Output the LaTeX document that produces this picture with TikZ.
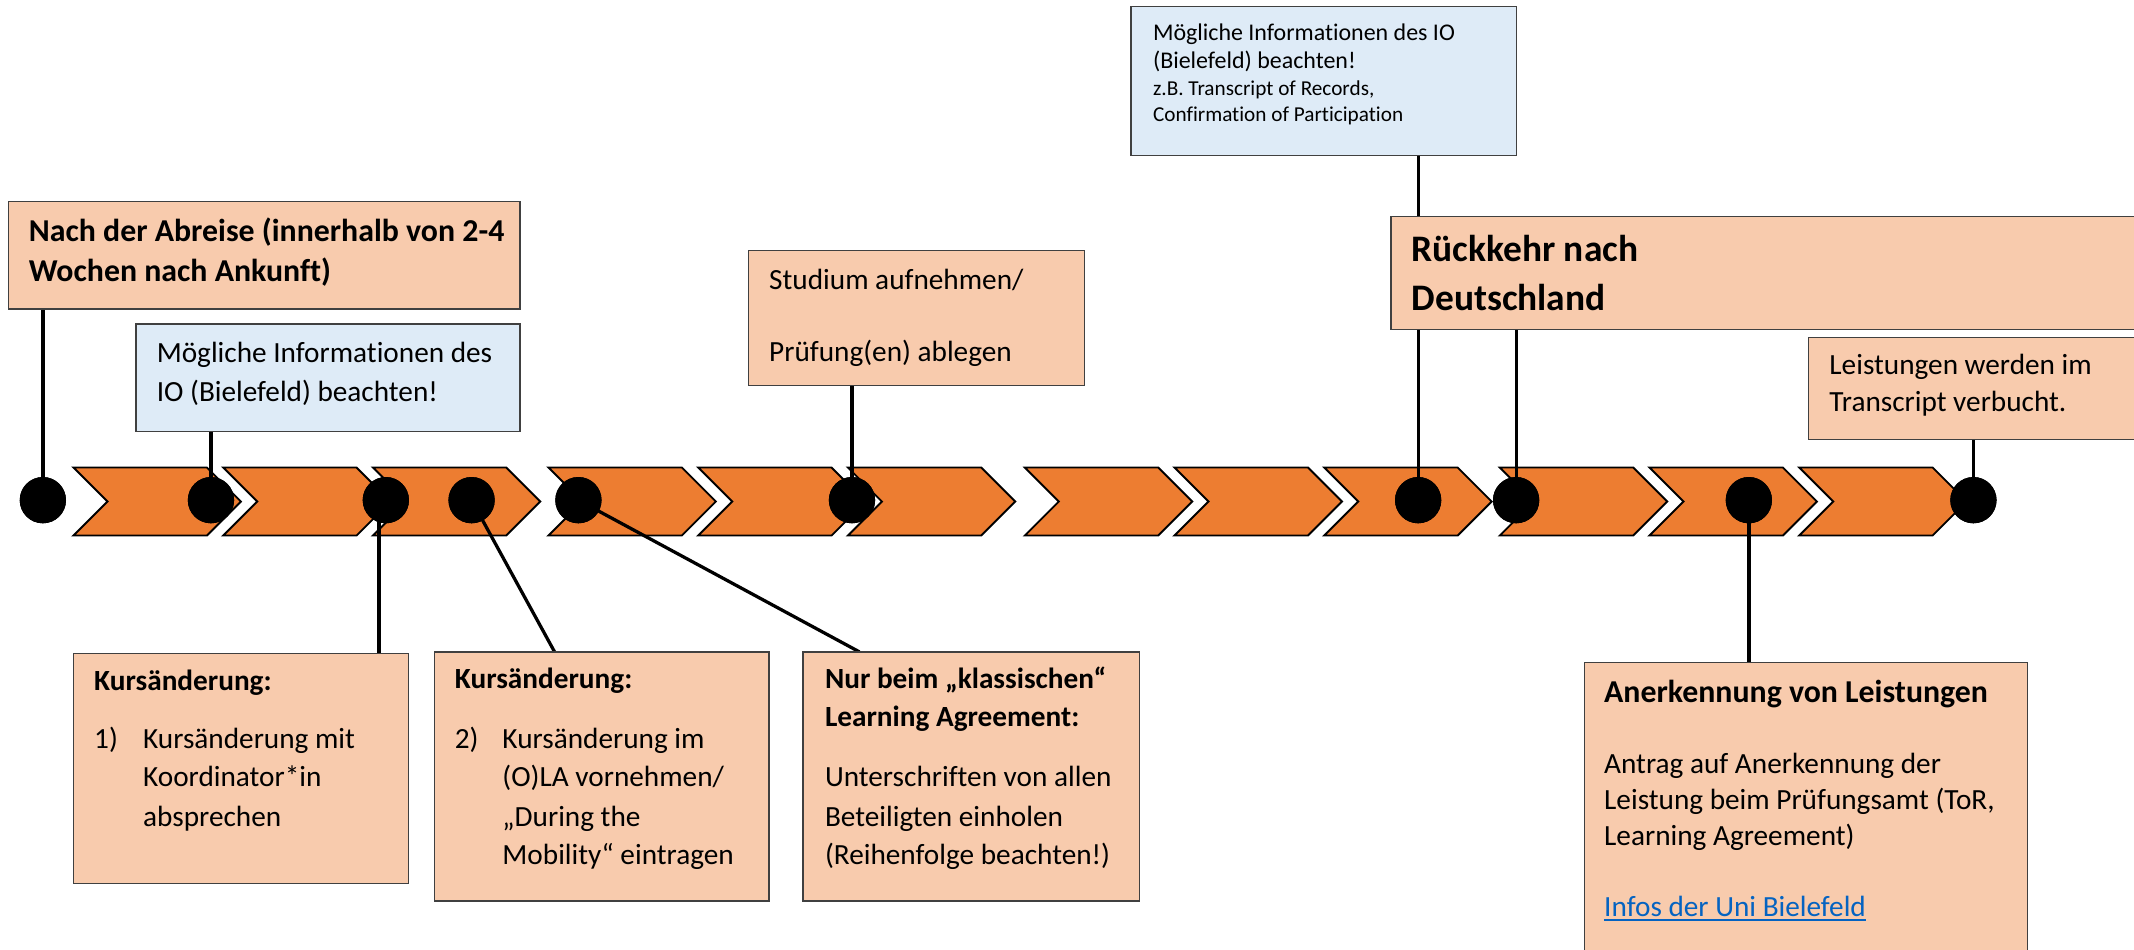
\documentclass[tikz,border=0pt]{standalone}
\usepackage{fontspec}
\setmainfont{Carlito}[Ligatures={NoCommon,TeX}]
\definecolor{chevorange}{HTML}{ED7D31}
\definecolor{peach}{HTML}{F8CBAD}
\definecolor{paleblue}{HTML}{DEEBF7}
\definecolor{boxgray}{HTML}{404040}
\definecolor{linkblue}{HTML}{0563C1}
\begin{document}
\begin{tikzpicture}[x=1pt,y=-1pt,
  chev/.style={fill=chevorange, draw=black, line width=1.4pt, line join=miter},
  box/.style={draw=boxgray, line width=0.9pt, fill=peach, anchor=north west, inner sep=0pt, outer sep=0pt},
  bluebox/.style={box, fill=paleblue},
  dot/.style={circle, fill=black, minimum size=34pt, inner sep=0pt, outer sep=0pt},
  conn/.style={line width=2.4pt, black},
  txt/.style={anchor=base west, inner sep=0pt, font=\fontsize{21.5}{26}\selectfont},
  btxt/.style={anchor=base west, inner sep=0pt, font=\fontsize{21.5}{26}\selectfont\bfseries},
  hbtxt/.style={anchor=base west, inner sep=0pt, font=\fontsize{23.4}{28}\selectfont\bfseries},
  smtxt/.style={anchor=base west, inner sep=0pt, font=\fontsize{17.6}{21}\selectfont},
  tinytxt/.style={anchor=base west, inner sep=0pt, font=\fontsize{15.6}{19}\selectfont},
  bigtxt/.style={anchor=base west, inner sep=0pt, font=\fontsize{27.5}{33}\selectfont\bfseries},
  linktxt/.style={txt, text=linkblue},
]
\useasboundingbox (0,0) rectangle (1568,698);
\fill[white] (0,0) rectangle (1568,698);

% chevrons
\foreach \L in {54,164,274,403,513,623,753,863,973,1102,1212,1322}{
  \draw[chev] (\L,343.5) -- ++(98,0) -- ++(25,25) -- ++(-25,25) -- ++(-98,0) -- ++(25,-25) -- cycle;
}

% dots (positions)
\node[dot] (c1) at (31.5,367.5) {};
\node[dot] (c2) at (155,367.5) {};
\node[dot] (c3) at (283.5,367.5) {};
\node[dot] (c4) at (346.5,367.5) {};
\node[dot] (c5) at (425,367.5) {};
\node[dot] (c6) at (626,367.5) {};
\node[dot] (c7) at (1042,367.5) {};
\node[dot] (c8) at (1114,367.5) {};
\node[dot] (c9) at (1285,367.5) {};
\node[dot] (c10) at (1450,367.5) {};

% boxes
\node[box, minimum width=376pt, minimum height=79pt] (B1) at (6,148) {};
\node[bluebox, minimum width=282pt, minimum height=79pt] (B2) at (100,238) {};
\node[box, minimum width=247pt, minimum height=99pt] (B3) at (550,184) {};
\node[bluebox, minimum width=283pt, minimum height=109pt] (B4) at (831,5) {};
\node[box, minimum width=560pt, minimum height=83pt] (B5) at (1022,159) {};
\node[box, minimum width=250pt, minimum height=75pt] (B6) at (1329,248) {};
\node[box, minimum width=246pt, minimum height=169pt] (B7) at (54,480) {};
\node[box, minimum width=246pt, minimum height=183pt] (B8) at (319,479) {};
\node[box, minimum width=247pt, minimum height=183pt] (B9) at (590,479) {};
\node[box, minimum width=326pt, minimum height=230pt] (B10) at (1164,487) {};

\coordinate (k8) at (407.5,479);
\coordinate (k9) at (631.5,479);

% connectors
\draw[conn] (B1.south -| c1) -- (c1.center);
\draw[conn] (B2.south -| c2) -- (c2.center);
\draw[conn] (B3.south -| c6) -- (c6.center);
\draw[conn] (B4.south -| c7) -- (B5.north -| c7);
\draw[conn] (B5.south -| c7) -- (c7.center);
\draw[conn] (B5.south -| c8) -- (c8.center);
\draw[conn] (B6.south -| c10) -- (c10.center);
\draw[conn] ([xshift=-5pt]c3.center) -- ([xshift=-5pt]c3.center |- B7.north);
\draw[conn] (c4.center) -- (k8);
\draw[conn] (c5.center) -- (k9);
\draw[conn] (c9.center) -- (c9.center |- B10.north);

% redraw dots on top of connectors
\foreach \n in {c1,c2,c3,c4,c5,c6,c7,c8,c9,c10}{
  \fill[black] (\n.center) circle (17pt);
}

% redraw boxes on top
\foreach \n/\f in {B1/peach,B2/paleblue,B3/peach,B4/paleblue,B5/peach,B6/peach,B7/peach,B8/peach,B9/peach,B10/peach}{
  \filldraw[fill=\f, draw=boxgray, line width=0.9pt] (\n.north west) rectangle (\n.south east);
}

% texts
\node[hbtxt] (t1a) at (21,177.5) {Nach der Abreise (innerhalb von 2-4};
\node[hbtxt] (t1b) at (21,207) {Wochen nach Ankunft)};

\node[txt] (t2a) at (115,266.5) {Mögliche Informationen des};
\node[txt] (t2b) at (115,295) {IO (Bielefeld) beachten!};

\node[txt] (t3a) at (565,213) {Studium aufnehmen/};
\node[txt] (t3b) at (565,265.5) {Prüfung(en) ablegen};

\node[smtxt] (t4a) at (847,29.5) {Mögliche Informationen des IO};
\node[smtxt] (t4b) at (847,50.5) {(Bielefeld) beachten!};
\node[tinytxt] (t4c) at (847,70) {z.B. Transcript of Records,};
\node[tinytxt] (t4d) at (847,89.5) {Confirmation of Participation};

\node[bigtxt] (t5a) at (1037,192) {Rückkehr nach};
\node[bigtxt] (t5b) at (1037,228) {Deutschland};

\node[txt] (t6a) at (1344,275.5) {Leistungen werden im};
\node[txt] (t6b) at (1344,302.5) {Transcript verbucht.};

\node[btxt] (t7a) at (69,507) {Kursänderung:};
\node[txt] (t7n) at (69,550) {1)};
\node[txt] (t7b) at (105,550) {Kursänderung mit};
\node[txt] (t7c) at (105,578) {Koordinator*in};
\node[txt] (t7d) at (105,607) {absprechen};

\node[btxt] (t8a) at (334,506) {Kursänderung:};
\node[txt] (t8n) at (334,550) {2)};
\node[txt] (t8b) at (369,550) {Kursänderung im};
\node[txt] (t8c) at (369,578) {(O)LA vornehmen/};
\node[txt] (t8d) at (369,607) {„During the};
\node[txt] (t8e) at (369,635.5) {Mobility“ eintragen};

\node[btxt] (t9a) at (606,506) {Nur beim „klassischen“};
\node[btxt] (t9b) at (606,534) {Learning Agreement:};
\node[txt] (t9c) at (606,578) {Unterschriften von allen};
\node[txt] (t9d) at (606,607) {Beteiligten einholen};
\node[txt] (t9e) at (606,635.5) {(Reihenfolge beachten!)};

\node[hbtxt] (t10a) at (1178.5,516) {Anerkennung von Leistungen};
\node[txt] (t10b) at (1178.5,568) {Antrag auf Anerkennung der};
\node[txt] (t10c) at (1178.5,595) {Leistung beim Prüfungsamt (ToR,};
\node[txt] (t10d) at (1178.5,621) {Learning Agreement)};
\node[linktxt] (t10e) at (1178.5,673.5) {Infos der Uni Bielefeld};
\draw[linkblue, line width=1.1pt] ([yshift=-2.5pt]t10e.base west) -- ([yshift=-2.5pt]t10e.base east);
\end{tikzpicture}
\end{document}
